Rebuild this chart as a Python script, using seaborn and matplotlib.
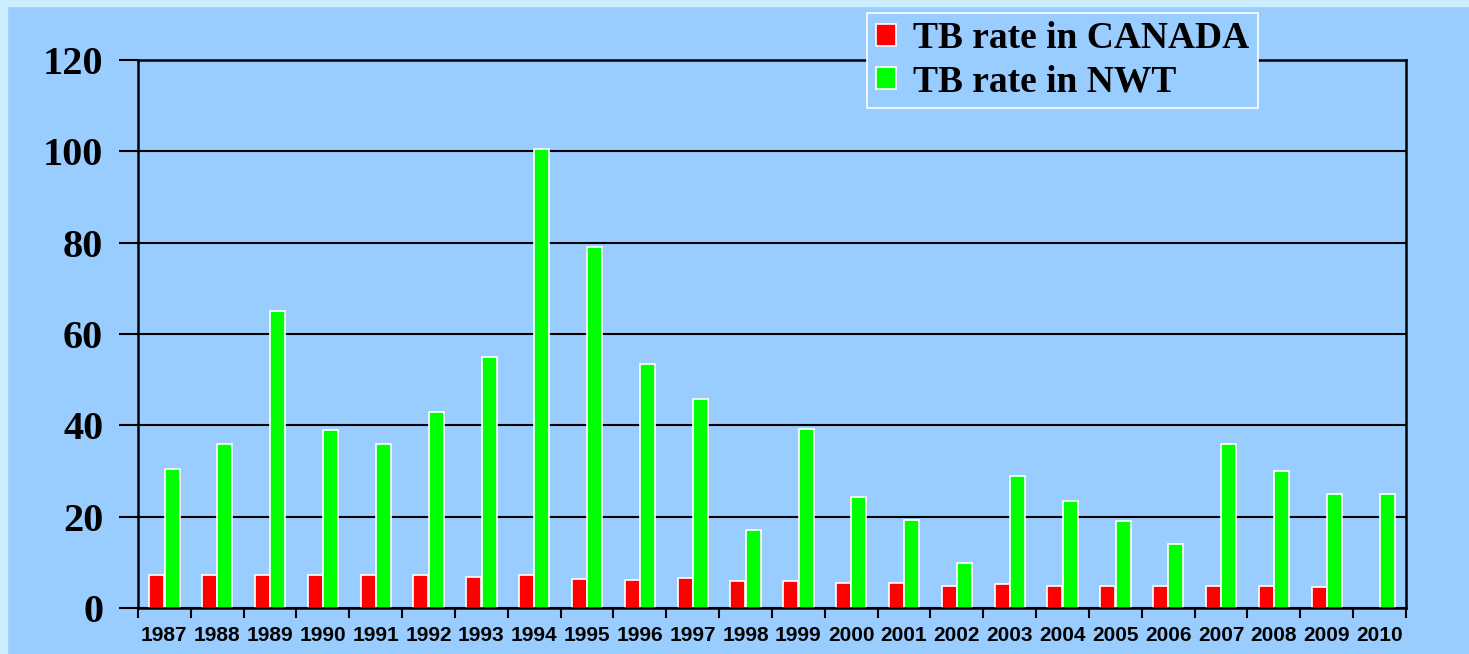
import pandas as pd
import numpy as np
import matplotlib
matplotlib.use('Agg')
import matplotlib.pyplot as plt
from matplotlib.patches import Rectangle
import seaborn as sns

years = [str(y) for y in range(1987, 2011)]
canada_rate = [7.2, 7.2, 7.2, 7.2, 7.2, 7.2, 6.9, 7.2, 6.4, 6.1, 6.5, 5.9,
               5.9, 5.5, 5.5, 4.9, 5.2, 4.9, 4.9, 4.9, 4.9, 4.9, 4.5, np.nan]
nwt_rate = [30.5, 36, 65, 39, 36, 43, 55, 100.5, 79, 53.4, 45.8, 17,
            39.2, 24.3, 19.3, 9.9, 28.9, 23.4, 19, 14, 36, 30, 25, 25]
series_names = ['TB rate in CANADA', 'TB rate in NWT']

df = pd.DataFrame({
    'Year': years * 2,
    'Rate': canada_rate + nwt_rate,
    'Series': [series_names[0]] * len(years) + [series_names[1]] * len(years),
})

bg = '#99CCFF'
fig = plt.figure(figsize=(14.69, 6.54), dpi=100, facecolor=bg)
# light slide border on top and left
fig.add_artist(Rectangle((0, 0.991), 1, 0.009, transform=fig.transFigure, color='#CCEEFF', zorder=0))
fig.add_artist(Rectangle((0, 0), 0.0048, 1, transform=fig.transFigure, color='#CCEEFF', zorder=0))

ax = fig.add_axes([0.0939, 0.0703, 0.8632, 0.8379])
ax.set_facecolor(bg)

sns.barplot(data=df, x='Year', y='Rate', hue='Series',
            palette={series_names[0]: '#FF0000', series_names[1]: '#00FF00'},
            saturation=1, width=0.58, gap=0.02, edgecolor='white', linewidth=1.2, ax=ax)

ax.set_ylim(0, 120)
ax.set_xlim(-0.5, len(years) - 0.5)
ax.set_yticks(range(0, 121, 20))
ax.yaxis.grid(True, color='black', linewidth=1.5)
ax.set_axisbelow(True)
ax.set_xlabel('')
ax.set_ylabel('')

for s in ax.spines.values():
    s.set_color('black')
    s.set_linewidth(1.8)

ax.tick_params(axis='y', length=14, width=1.5, direction='out', pad=11)
for lab in ax.get_yticklabels():
    lab.set_fontfamily('Liberation Serif')
    lab.set_fontweight('bold')
    lab.set_fontsize(29)

# x ticks sit on category boundaries, labels centred
ax.set_xticks(np.arange(len(years)))
ax.set_xticklabels(years, fontfamily='Liberation Sans', fontweight='bold', fontsize=15)
ax.tick_params(axis='x', length=0, pad=13)
ax.set_xticks(np.arange(len(years) + 1) - 0.5, minor=True)
ax.tick_params(axis='x', which='minor', length=7, width=1.5, direction='out')

leg = ax.legend(loc='upper right', bbox_to_anchor=(0.883, 1.086), borderaxespad=0,
                frameon=True, fancybox=False, facecolor=bg, edgecolor='white', framealpha=1,
                prop={'family': 'Liberation Serif', 'weight': 'bold', 'size': 27},
                handlelength=0.55, handleheight=0.55, handletextpad=0.45,
                labelspacing=0.22, borderpad=0.22)
leg.get_frame().set_linewidth(1.2)

fig.savefig('out.png', dpi=100, facecolor=bg)
